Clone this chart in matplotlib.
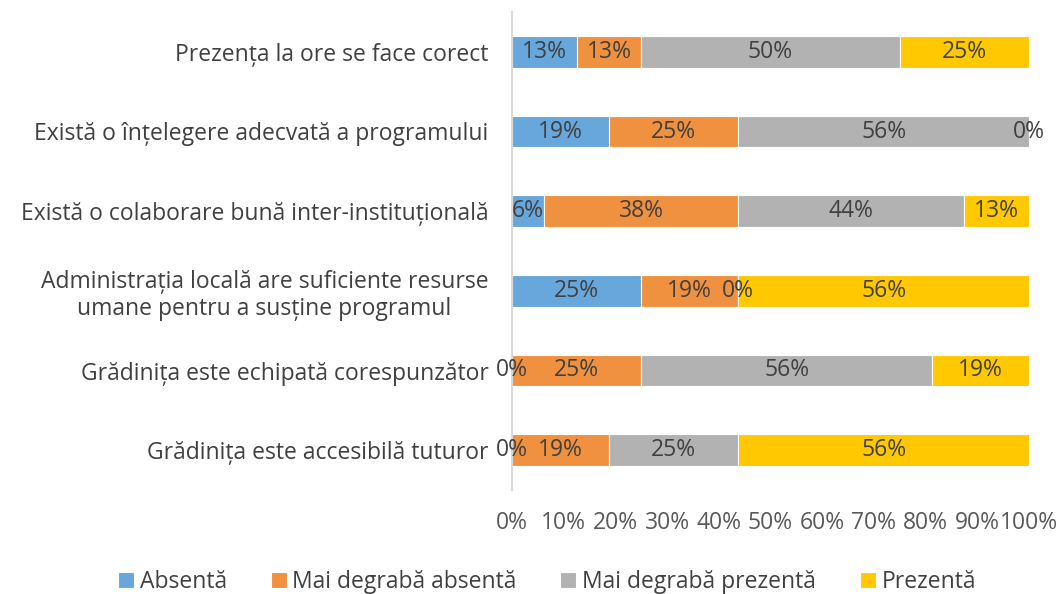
"""100% stacked horizontal bars: evaluarea programului.
"""
import math

import numpy as np
import matplotlib.pyplot as plt

# categories, top to bottom
categories = [
    'Prezența la ore se face corect',
    'Există o înțelegere adecvată a programului',
    'Există o colaborare bună inter-instituțională',
    'Administrația locală are suficiente resurse\numane pentru a susține programul',
    'Grădinița este echipată corespunzător',
    'Grădinița este accesibilă tuturor',
]

series_names = ['Absentă', 'Mai degrabă absentă', 'Mai degrabă prezentă', 'Prezentă']

# percentages per series, same order as categories
absenta = [12.5, 18.75, 6.25, 25.0, 0.0, 0.0]
mai_degraba_absenta = [12.5, 25.0, 37.5, 18.75, 25.0, 18.75]
mai_degraba_prezenta = [50.0, 56.25, 43.75, 0.0, 56.25, 25.0]
prezenta = [25.0, 0.0, 12.5, 56.25, 18.75, 56.25]

colors = ['#67A7DB', '#F0913F', '#B2B2B2', '#FFC800']

plt.rcParams['font.family'] = ['Open Sans', 'DejaVu Sans']
FS = 16.5

fig = plt.figure(figsize=(10.61, 5.94), dpi=100)
ax = fig.add_axes([512 / 1061, 1 - 490 / 594, 517 / 1061, 478 / 594])

y = np.arange(len(categories))
left = np.zeros(len(categories))
for name, vals, col in zip(series_names,
                           [absenta, mai_degraba_absenta, mai_degraba_prezenta, prezenta],
                           colors):
    vals = np.array(vals)
    ax.barh(y, vals, left=left, height=0.4, color=col, edgecolor='white',
            linewidth=0.8, label=name)
    for yi, l, v in zip(y, left, vals):
        txt = f'{int(math.floor(v + 0.5))}%'  # excel style rounding
        ax.text(l + v / 2, yi, txt, ha='center', va='center',
                fontsize=FS, color='#404040')
    left += vals

ax.set_xlim(0, 100)
ax.set_ylim(len(categories) - 0.5, -0.5)
ax.set_yticks(y)
ax.set_yticklabels(categories, fontsize=FS, color='#404040', multialignment='center',
                   linespacing=1.15)
ax.set_xticks(np.arange(0, 101, 10))
ax.set_xticklabels([f'{t}%' for t in range(0, 101, 10)], fontsize=FS, color='#595959')
ax.tick_params(axis='both', length=0)
ax.tick_params(axis='x', pad=15)
ax.tick_params(axis='y', pad=17)
for s in ['top', 'right', 'bottom']:
    ax.spines[s].set_visible(False)
ax.spines['left'].set_color('#D9D9D9')
ax.spines['left'].set_linewidth(1.5)

handles, labels = ax.get_legend_handles_labels()
fig.legend(handles, labels, loc='center', bbox_to_anchor=(547 / 1061, 1 - 582 / 594),
           ncol=4, frameon=False, fontsize=FS, handlelength=0.7, handleheight=0.7,
           columnspacing=1.9, handletextpad=0.25, labelcolor='#404040')

fig.savefig('out.png', dpi=100)
